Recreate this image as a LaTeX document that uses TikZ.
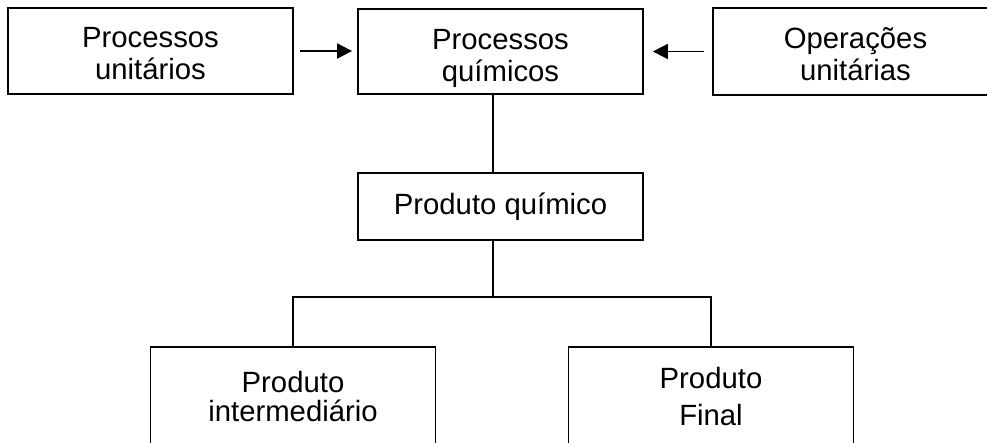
\documentclass[tikz,border=0pt]{standalone}
\usepackage{fontspec}
\setmainfont{Liberation Sans}
\usetikzlibrary{arrows.meta,calc}
\newcommand{\topstrut}[1][26pt]{\rule{0pt}{#1}}
\begin{document}
\begin{tikzpicture}[x=1pt,y=-1pt,
  box/.style={draw,line width=1.8pt,minimum width=285pt,inner sep=0pt,
    align=center,font=\fontsize{29.3}{32}\selectfont},
  link/.style={line width=1.8pt},
  feed/.style={link,-{Triangle[length=15pt,width=15pt]}}]
\useasboundingbox (0,0) rectangle (987,443);
\clip (0,0) rectangle (987,443);
% top row
\node[box,minimum height=86pt] (pu) at (150.5,51) {\topstrut Processos\\unitários};
\node[box,minimum height=85pt] (pq) at (500.5,51.5) {\topstrut[34pt]Processos\\químicos};
\node[box,minimum height=87pt] (ou) at (855.5,51.5) {\topstrut Operações\\unitárias};
% middle
\node[box,minimum height=67pt] (prod) at (500.5,206.5) {Produto químico};
% bottom row (boxes run past the lower edge)
\node[box,minimum height=99pt] (pi) at (293,396.5) {Produto\\[-3pt]intermediário};
\node[box,minimum height=99pt] (pf) at (711,396.5) {Produto\\[5pt]Final};
% connectors
\draw[feed,shorten <=6pt,shorten >=5pt] (pu.east) -- (pu.east -| pq.west);
\draw[feed,shorten <=8pt,shorten >=9pt] (ou.west) -- (ou.west -| pq.east);
\coordinate (trunk) at (493,297);
\draw[link] (pq.south -| trunk) -- (prod.north -| trunk);
\draw[link] (prod.south -| trunk) -- (trunk);
\draw[link] (pi.north) |- (trunk) -| (pf.north);
\end{tikzpicture}
\end{document}
